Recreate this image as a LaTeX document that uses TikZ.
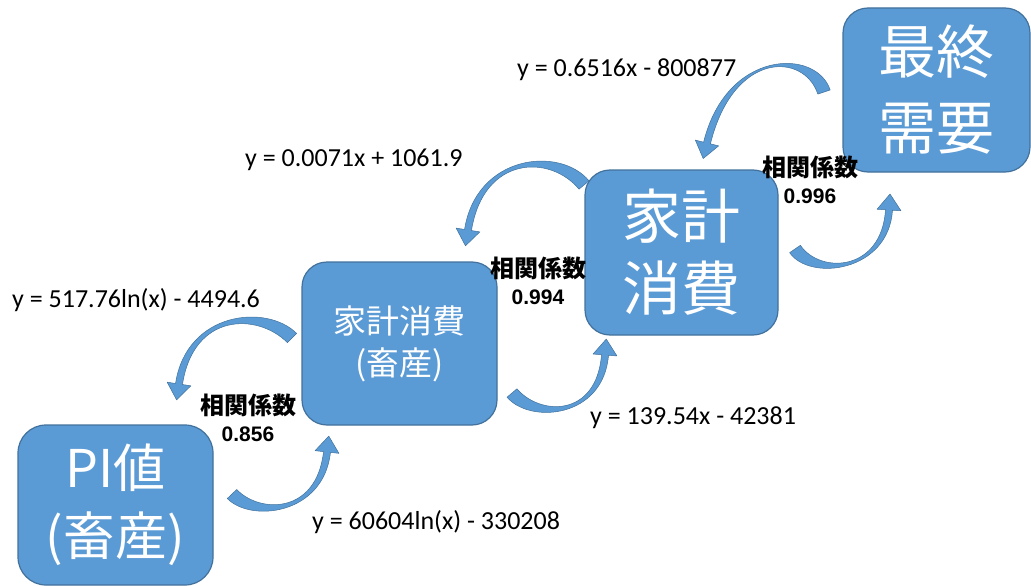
\documentclass[tikz,border=0pt]{standalone}
\usepackage{fontspec}
\setmainfont{Carlito}
\newfontfamily\cjk{Noto Sans CJK JP}
\newfontfamily\arl{Liberation Sans}
\usetikzlibrary{calc}
\definecolor{bfill}{RGB}{91,155,213}
\definecolor{bline}{RGB}{65,113,156}
% tapered curved arrow: #1 start, #2 ctrl1, #3 ctrl2, #4 end of shaft,
% #5 tail half width, #6 end half width, #7 head half width, #8 head length
\newcommand\curvarrow[8]{%
  \filldraw[arrowbody]
    ($#1!#5!90:#2$) .. controls ($#2!#5!-90:#1$) and ($#3!#6!90:#4$) .. ($#4!#6!-90:#3$)
    -- ($#4!#7!-90:#3$) -- ($#4!-#8!#3$) -- ($#4!#7!90:#3$) -- ($#4!#6!90:#3$)
    .. controls ($#3!#6!-90:#4$) and ($#2!#5!90:#1$) .. ($#1!#5!-90:#2$) -- cycle;}
\begin{document}
\begin{tikzpicture}[x=1pt,y=-1pt,
  box/.style={draw=bline, fill=bfill, line width=1.2pt, rounded corners=25pt,
    text=white, align=center, inner sep=0pt},
  eq/.style={anchor=west, inner sep=0pt, font=\fontsize{26}{30}\selectfont},
  corr/.style={align=center, inner sep=0pt, font=\bfseries\fontsize{22}{27}\selectfont},
  arrowbody/.style={fill=bfill, draw=bline, line width=0.5pt, line join=round}]
\useasboundingbox (0,0) rectangle (1031,586);

% boxes
\node[box, rounded corners=28pt, minimum width=195pt, minimum height=160pt,
  font=\cjk\fontsize{52}{68}\selectfont] (b1) at (115.5,505) {PI値\\(畜産)};
\node[box, minimum width=195pt, minimum height=163pt,
  font=\cjk\fontsize{33}{42}\selectfont] (b2) at (399.5,343.5) {家計消費\\(畜産)};
\node[box, minimum width=193pt, minimum height=165pt,
  font=\cjk\fontsize{59}{72}\selectfont] (b3) at (681.5,252.5) {家計\\消費};
\node[box, minimum width=187pt, minimum height=164pt,
  font=\cjk\fontsize{58}{76}\selectfont] (b4) at (936.5,90) {最終\\需要};

% arrow anchor points
\coordinate (aS) at (292,338); \coordinate (aA) at (262,308);
\coordinate (aB) at (190,312); \coordinate (aE) at (179,384);
\coordinate (bS) at (232,494); \coordinate (bA) at (255,518);
\coordinate (bB) at (320,515); \coordinate (bE) at (327,452);
\coordinate (cS) at (584,185); \coordinate (cA) at (555,150);
\coordinate (cB) at (480,155); \coordinate (cE) at (468,230);
\coordinate (dS) at (512,393); \coordinate (dA) at (535,420);
\coordinate (dB) at (600,418); \coordinate (dE) at (605,355);
\coordinate (eS) at (824,92);  \coordinate (eA) at (810,50);
\coordinate (eB) at (730,50);  \coordinate (eE) at (707,143);
\coordinate (fS) at (795,249); \coordinate (fA) at (815,278);
\coordinate (fB) at (885,272); \coordinate (fE) at (889,210);

\curvarrow{(aS)}{(aA)}{(aB)}{(aE)}{6.5pt}{3.5pt}{12pt}{16pt}
\curvarrow{(bS)}{(bA)}{(bB)}{(bE)}{6.5pt}{3.5pt}{12pt}{16pt}
\curvarrow{(cS)}{(cA)}{(cB)}{(cE)}{6.5pt}{3.5pt}{12pt}{16pt}
\curvarrow{(dS)}{(dA)}{(dB)}{(dE)}{6.5pt}{3.5pt}{12pt}{16pt}
\curvarrow{(eS)}{(eA)}{(eB)}{(eE)}{6.5pt}{3.5pt}{12pt}{16pt}
\curvarrow{(fS)}{(fA)}{(fB)}{(fE)}{6.5pt}{3.5pt}{12pt}{16pt}

% regression equations
\node[eq] (e1) at (517,70)  {y = 0.6516x - 800877};
\node[eq] (e2) at (245,160) {y = 0.0071x + 1061.9};
\node[eq] (e3) at (12,300)  {y = 517.76ln(x) - 4494.6};
\node[eq] (e4) at (590,418) {y = 139.54x - 42381};
\node[eq] (e5) at (312,522) {y = 60604ln(x) - 330208};

% correlation coefficients
\node[corr] (r1) at (248,418) {{\cjk\fontsize{24}{27}\selectfont 相関係数}\\{\arl\fontsize{21}{27}\selectfont 0.856}};
\node[corr] (r2) at (538,281) {{\cjk\fontsize{24}{27}\selectfont 相関係数}\\{\arl\fontsize{21}{27}\selectfont 0.994}};
\node[corr] (r3) at (810,180) {{\cjk\fontsize{24}{27}\selectfont 相関係数}\\{\arl\fontsize{21}{27}\selectfont 0.996}};
\end{tikzpicture}
\end{document}
